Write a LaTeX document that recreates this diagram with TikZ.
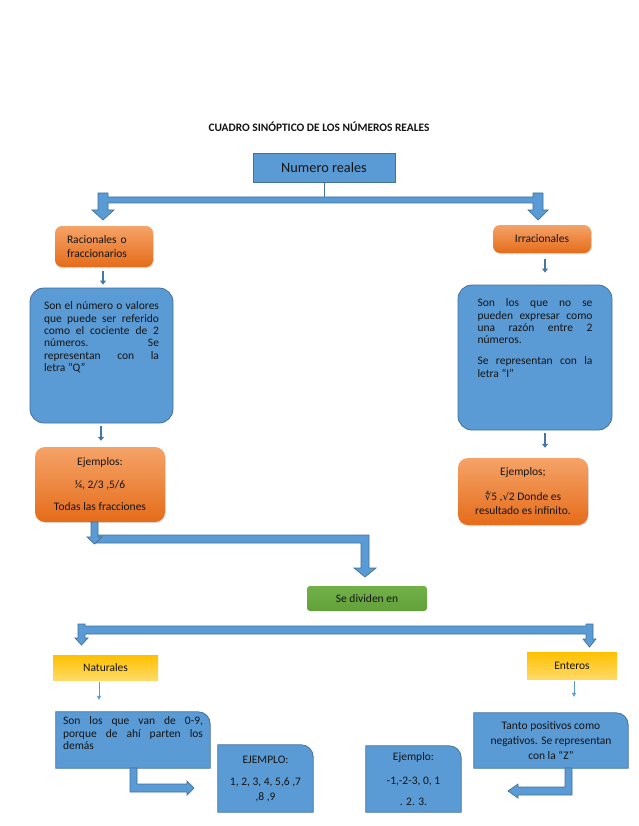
\documentclass[tikz,border=0pt]{standalone}
\usepackage{fontspec}
\setmainfont{Carlito}
\newfontfamily\symfont{DejaVu Sans}
\usetikzlibrary{arrows.meta,shadows}
\definecolor{blueF}{RGB}{91,155,213}
\definecolor{blueD}{RGB}{65,113,156}
\definecolor{orT}{RGB}{245,163,104}
\definecolor{orB}{RGB}{229,108,26}
\definecolor{yeT}{RGB}{255,192,0}
\definecolor{yeB}{RGB}{255,218,102}
\definecolor{grT}{RGB}{114,176,72}
\definecolor{grB}{RGB}{98,160,58}
\definecolor{txt}{RGB}{20,20,20}
\pgfdeclarelayer{bg}
\pgfsetlayers{bg,main}
\begin{document}
\begin{tikzpicture}[x=1pt,y=-1pt,
  every node/.style={text=txt, font=\fontsize{11.5}{12.3}\selectfont, inner sep=0pt},
  bluebox/.style={fill=blueF, draw=blueD, line width=0.8pt, rounded corners=14pt},
  orangebox/.style={top color=orT, bottom color=orB, rounded corners=7pt,
     drop shadow={opacity=0.25, shadow xshift=0.8pt, shadow yshift=-1.2pt}},
  yellowbox/.style={top color=yeT, bottom color=yeB},
  greenbox/.style={top color=grT, bottom color=grB, rounded corners=3pt},
  tabshape/.style={fill=blueF, draw=blueD, line width=0.8pt},
  blockarrow/.style={fill=blueF, draw=blueD, line width=0.7pt, line join=miter},
  smallarrow/.style={draw=blueD!85!blueF, line width=2.2pt, -{Triangle[width=6pt,length=4pt]}},
  thinarrow/.style={draw=blueF, line width=0.7pt, -{Triangle[width=4pt,length=4pt]}}
]
\useasboundingbox (0,0) rectangle (638,826);

% title
\node[font=\bfseries\fontsize{11.4}{13}\selectfont] (title) at (319,127) {CUADRO SINÓPTICO DE LOS NÚMEROS REALES};

\node[fill=blueF, draw=blueD, line width=0.8pt, minimum width=142pt, minimum height=29pt,
      font=\fontsize{14.3}{16}\selectfont] (nr) at (324,167.5) {Numero reales};

\node[orangebox, minimum width=98pt, minimum height=41pt, text width=74pt, inner xsep=12pt,
      align=left, font=\fontsize{11.5}{14}\selectfont] (rac) at (104,246.5) {Racionales o\\fraccionarios};

\node[orangebox, minimum width=98pt, minimum height=28pt] (irr) at (542,239) {Irracionales};

\node[bluebox, minimum width=143pt, minimum height=135pt] (defQ) at (101.5,355.5)
  {\parbox[c][107pt][t]{115pt}{\tolerance=10000 \hbadness=10000 Son el número o valores\linebreak que puede ser referido\linebreak como el cociente de 2\linebreak números. Se\linebreak representan con la\linebreak letra “Q”}};

\node[bluebox, minimum width=154pt, minimum height=145pt] (defI) at (535,357.5)
  {\parbox[c][117pt][t]{115pt}{\tolerance=10000 \hbadness=10000 \setlength{\parskip}{8.7pt}Son los que no se\linebreak pueden expresar como\linebreak una razón entre 2\linebreak números.\par Se representan con la\linebreak letra “I”}};

\node[orangebox, rounded corners=10pt, minimum width=130pt, minimum height=75pt, align=center,
      font=\fontsize{11.5}{22.5}\selectfont] (ejQ) at (100,484.5) {Ejemplos:\\¼, 2/3 ,5/6\\Todas las fracciones};

\node[orangebox, rounded corners=10pt, minimum width=130pt, minimum height=67pt, align=center,
      font=\fontsize{11.5}{14}\selectfont] (ejI) at (523,491.5)
  {Ejemplos;\\[11pt]{\symfont\fontsize{10}{14}\selectfont ∜}5 ,{\symfont\fontsize{10}{14}\selectfont √}2 Donde es\\resultado es infinito.};

\node[greenbox, minimum width=120pt, minimum height=25pt] (div) at (367,598.5) {Se dividen en};

\node[yellowbox, minimum width=105pt, minimum height=25pt] (nat) at (105.5,667.5) {Naturales};
\node[yellowbox, minimum width=90pt, minimum height=27pt] (ent) at (572,665.5) {Enteros};

\node[minimum width=154pt, minimum height=56pt] (natdef) at (133,740)
  {\parbox[c][46pt][t]{140pt}{\fontsize{11.5}{12.5}\selectfont\tolerance=10000 \hbadness=10000 Son los que van de 0-9,\linebreak porque de ahí parten los\linebreak demás}};

\node[minimum width=95pt, minimum height=67pt, align=center, font=\fontsize{11.5}{15}\selectfont]
  (natej) at (265.5,778.5) {EJEMPLO:\\[7pt]1, 2, 3, 4, 5,6 ,7\\,8 ,9};

\node[minimum width=154pt, minimum height=55pt, align=center, font=\fontsize{11.5}{15}\selectfont]
  (entdef) at (551,740.5) {Tanto positivos como\\negativos. Se representan\\con la “Z”};

\node[minimum width=95pt, minimum height=66pt, align=center, font=\fontsize{11.5}{15}\selectfont]
  (entej) at (413.5,779) {Ejemplo:\\[9pt]-1,-2-3, 0, 1\\[6pt]. 2. 3.};

% background shapes
\begin{pgfonlayer}{bg}
\fill[white] (0,0) rectangle (638,826);
\foreach \n in {natdef, natej, entdef, entej} {
  \path[tabshape] (\n.south west) -- (\n.north west) -- ([xshift=-12pt]\n.north east)
     arc[start angle=90, end angle=0, radius=12pt] -- (\n.south east) -- cycle;
}
\end{pgfonlayer}

% connector from Numero reales
\draw[blueD, line width=0.6pt] (nr.south) -- (nr.south |- 0,197);
% top bar with two down arrows
\draw[blockarrow] (98,193) -- (108,193) -- (108,197) -- (533,197) -- (533,193) -- (543,193)
  -- (543,210) -- (548,210) -- (538,220) -- (528,210) -- (533,210) -- (533,203) -- (108,203)
  -- (108,210) -- (114,210) -- (103,220) -- (92,210) -- (98,210) -- cycle;

% small arrows
\draw[smallarrow] ([xshift=-1pt,yshift=-4pt]rac.south) -- ([xshift=1.5pt,yshift=3pt]defQ.north);
\draw[smallarrow] ([xshift=-0.5pt,yshift=-3pt]defQ.south) -- ([xshift=1pt,yshift=6pt]ejQ.north);
\draw[smallarrow] ([xshift=3pt,yshift=-6pt]irr.south) -- ([xshift=10pt,yshift=12pt]defI.north);
\draw[smallarrow] ([xshift=10pt,yshift=-3pt]defI.south) -- ([xshift=22pt,yshift=10pt]ejI.north);

% bent arrow from Ejemplos to Se dividen en
\draw[blockarrow] (96,535) -- (369,535) -- (369,568) -- (376,568) -- (365,577) -- (354,568)
  -- (361,568) -- (361,543) -- (96,543) -- cycle;
\draw[blockarrow] (91,522) -- (98,522) -- (98,537) -- (102,537) -- (94.5,544) -- (87,537) -- (91,537) -- cycle;

% second bar
\draw[blockarrow] (78,624) -- (85,624) -- (85,626) -- (586,626) -- (586,624) -- (593,624)
  -- (593,639) -- (596,639) -- (589.5,647) -- (583,639) -- (586,639) -- (586,634) -- (85,634)
  -- (85,638) -- (88,638) -- (81.5,645) -- (75,638) -- (78,638) -- cycle;

% thin arrows
\draw[thinarrow] ([xshift=-6.5pt,yshift=-2pt]nat.south) -- ([xshift=-34pt,yshift=12pt]natdef.north);
\draw[thinarrow] ([xshift=2pt,yshift=-2pt]ent.south) -- ([xshift=23pt,yshift=16pt]entdef.north);

% bent arrows bottom
\draw[blockarrow] (130,768) -- (137,768) -- (137,784) -- (187,784) -- (187,781) -- (194,788)
  -- (187,795) -- (187,792) -- (130,792) -- cycle;
\draw[blockarrow] (565,768) -- (572,768) -- (572,795) -- (518,795) -- (518,798) -- (508,791)
  -- (518,784) -- (518,787) -- (565,787) -- cycle;
\end{tikzpicture}
\end{document}
